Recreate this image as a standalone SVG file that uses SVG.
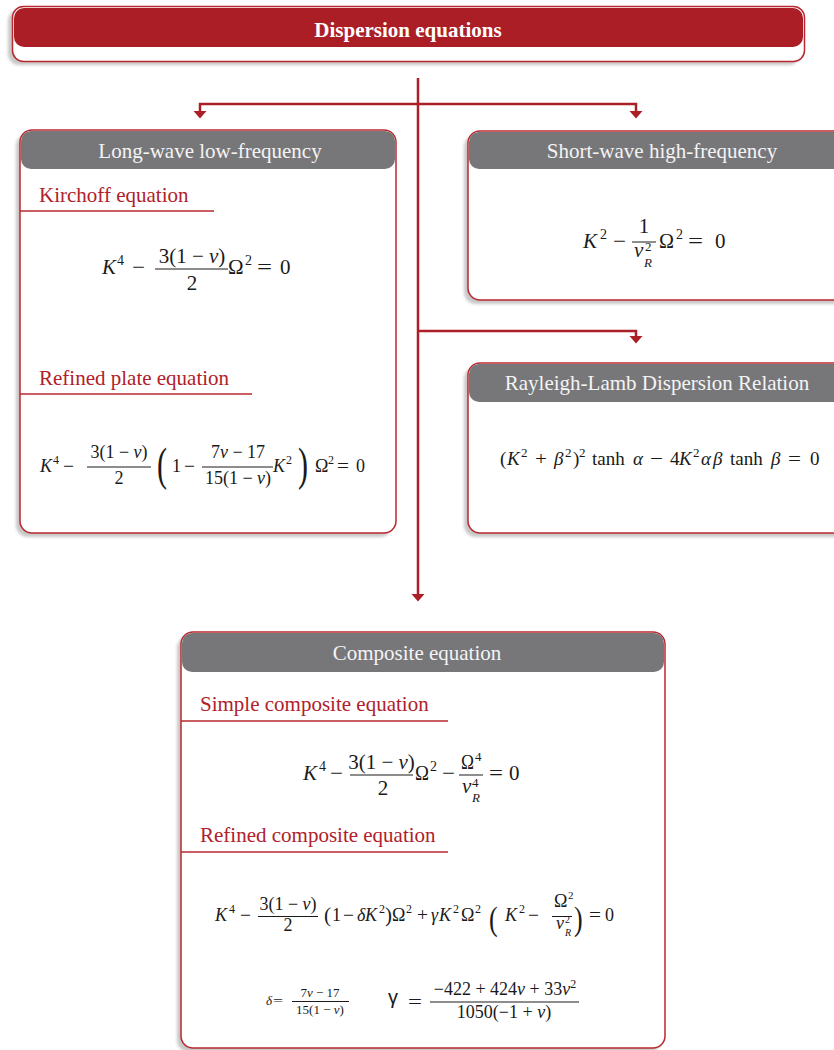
<svg xmlns="http://www.w3.org/2000/svg" width="834" height="1050" viewBox="0 0 834 1050">
<defs>
<filter id="blur" x="-5%" y="-5%" width="110%" height="110%"><feGaussianBlur stdDeviation="1.5"/></filter>
</defs>
<style>
.shadow{fill:#c8c8c8;filter:url(#blur)}
.box{fill:#fff;stroke:#b8282e;stroke-width:1.5}
.hdr{fill:#77777a}
.hd{font-family:"Liberation Serif",serif;font-size:21px;fill:#f4f4f4;text-anchor:middle}
.sub{font-family:"Liberation Serif",serif;font-size:21px;fill:#b0212a}
.ul{stroke:#b8282e;stroke-width:1.5}
.m{font-family:"Liberation Serif",serif;fill:#1a1a1a}
.i{font-style:italic}
.c{text-anchor:middle}
.bar{stroke:#1a1a1a;stroke-width:1}
.conn{stroke:#ad1f27;stroke-width:2.5;fill:none}
.ah{fill:#ad1f27}
</style>
<rect width="834" height="1050" fill="#fff"/>

<g id="title">
<rect class="shadow" x="8" y="10" width="792" height="55" rx="11"/>
<rect class="box" x="12.5" y="6.5" width="792" height="55" rx="11"/>
<rect x="14" y="8" width="789" height="39" rx="10" fill="#ab1e26"/>
<text x="408" y="37" font-family="Liberation Serif, serif" font-size="21" font-weight="bold" fill="#fff" text-anchor="middle">Dispersion equations</text>
</g>

<g id="connectors">
<line class="conn" x1="418" y1="78" x2="418" y2="595"/>
<polyline class="conn" points="200,112 200,104 636,104 636,112"/>
<polyline class="conn" points="418,331 636,331 636,337"/>
<polygon class="ah" points="193.5,111 206.5,111 200,118.5"/>
<polygon class="ah" points="629.5,111 642.5,111 636,118.5"/>
<polygon class="ah" points="629.5,336 642.5,336 636,343.5"/>
<polygon class="ah" points="411.5,594 424.5,594 418,601.5"/>
</g>

<g id="long-wave">
<rect class="shadow" x="16" y="134" width="376" height="403" rx="12"/>
<rect class="box" x="20" y="130" width="376" height="403" rx="12"/>
<rect class="hdr" x="21" y="131" width="374" height="38" rx="10"/>
<text class="hd" x="210" y="158">Long-wave low-frequency</text>
<text class="sub" x="39" y="202">Kirchoff equation</text>
<line class="ul" x1="20" y1="211" x2="214" y2="211"/>
<g class="m" font-size="21">
<text class="i" x="102" y="274">K</text>
<text x="117" y="265" font-size="14">4</text>
<text x="132" y="274" textLength="13" lengthAdjust="spacingAndGlyphs">−</text>
<text class="c" x="192" y="263">3(1 − <tspan class="i">ν</tspan>)</text>
<line class="bar" x1="155" y1="269" x2="228" y2="269"/>
<text class="c" x="192" y="290">2</text>
<text x="228" y="274">Ω</text>
<text x="245" y="265" font-size="14">2</text>
<text x="257" y="274" textLength="15" lengthAdjust="spacingAndGlyphs">=</text>
<text x="280" y="274">0</text>
</g>
<text class="sub" x="39" y="385">Refined plate equation</text>
<line class="ul" x1="20" y1="394" x2="252" y2="394"/>
<g class="m" font-size="18">
<text class="i" x="40" y="472">K</text>
<text x="53" y="464" font-size="12">4</text>
<text x="63" y="472" textLength="11" lengthAdjust="spacingAndGlyphs">−</text>
<text class="c" x="119" y="458">3(1 − <tspan class="i">ν</tspan>)</text>
<line class="bar" x1="87" y1="467" x2="151" y2="467"/>
<text class="c" x="119" y="484">2</text>
<text font-size="30" transform="translate(157,480) scale(1,1.55)">(</text>
<text x="172" y="472">1</text>
<text x="184" y="472" textLength="11" lengthAdjust="spacingAndGlyphs">−</text>
<text class="c" x="238" y="458">7<tspan class="i">ν</tspan> − 17</text>
<line class="bar" x1="202" y1="467" x2="273" y2="467"/>
<text class="c" x="238" y="484">15(1 − <tspan class="i">ν</tspan>)</text>
<text class="i" x="273" y="472">K</text>
<text x="286" y="464" font-size="12">2</text>
<text font-size="30" transform="translate(298,480) scale(1,1.55)">)</text>
<text x="315" y="472">Ω</text>
<text x="328" y="464" font-size="12">2</text>
<text x="337" y="472" textLength="12" lengthAdjust="spacingAndGlyphs">=</text>
<text x="356" y="472">0</text>
</g>
</g>

<g id="short-wave">
<rect class="shadow" x="464" y="135" width="390" height="169" rx="12"/>
<rect class="box" x="468" y="131" width="390" height="169" rx="12"/>
<rect class="hdr" x="469" y="132" width="388" height="37" rx="10"/>
<text class="hd" x="662" y="158">Short-wave high-frequency</text>
<g class="m" font-size="21">
<text class="i" x="583" y="248">K</text>
<text x="600" y="239" font-size="14">2</text>
<text x="613" y="248" textLength="13" lengthAdjust="spacingAndGlyphs">−</text>
<text class="c" x="644" y="233">1</text>
<line class="bar" x1="632" y1="242" x2="656" y2="242"/>
<text class="i" x="634" y="257">v</text>
<text x="645" y="251" font-size="13">2</text>
<text class="i" x="644" y="267" font-size="13">R</text>
<text x="659" y="248" textLength="15" lengthAdjust="spacingAndGlyphs">Ω</text>
<text x="676" y="239" font-size="14">2</text>
<text x="688" y="248" textLength="15" lengthAdjust="spacingAndGlyphs">=</text>
<text x="715" y="248">0</text>
</g>
</g>

<g id="rayleigh-lamb">
<rect class="shadow" x="464" y="367" width="390" height="170" rx="12"/>
<rect class="box" x="468" y="363" width="390" height="170" rx="12"/>
<rect class="hdr" x="469" y="364" width="388" height="38" rx="10"/>
<text class="hd" x="657" y="390">Rayleigh-Lamb Dispersion Relation</text>
<g class="m" font-size="19">
<text x="500" y="465">(</text>
<text class="i" x="507" y="465">K</text>
<text x="521" y="457" font-size="13">2</text>
<text x="535" y="465" textLength="12" lengthAdjust="spacingAndGlyphs">+</text>
<text class="i" x="554" y="465">β</text>
<text x="565" y="457" font-size="13">2</text>
<text x="573" y="465">)</text>
<text x="579" y="457" font-size="13">2</text>
<text x="592" y="465">tanh</text>
<text class="i" x="633" y="465">α</text>
<text x="650" y="465" textLength="13" lengthAdjust="spacingAndGlyphs">−</text>
<text x="670" y="465">4</text>
<text class="i" x="679" y="465">K</text>
<text x="693" y="457" font-size="13">2</text>
<text class="i" x="701" y="465">α</text>
<text class="i" x="713" y="465">β</text>
<text x="730" y="465">tanh</text>
<text class="i" x="771" y="465">β</text>
<text x="788" y="465" textLength="13" lengthAdjust="spacingAndGlyphs">=</text>
<text x="810" y="465">0</text>
</g>
</g>

<g id="composite">
<rect class="shadow" x="177" y="636" width="484" height="416" rx="12"/>
<rect class="box" x="181" y="632" width="484" height="416" rx="12"/>
<rect class="hdr" x="182" y="633" width="482" height="39" rx="10"/>
<text class="hd" x="417" y="660">Composite equation</text>
<text class="sub" x="200" y="711">Simple composite equation</text>
<line class="ul" x1="181" y1="721" x2="448" y2="721"/>
<g class="m" font-size="21">
<text class="i" x="303" y="780">K</text>
<text x="319" y="771" font-size="14">4</text>
<text x="330" y="780" textLength="13" lengthAdjust="spacingAndGlyphs">−</text>
<text class="c" x="381.5" y="769">3(1 − <tspan class="i">ν</tspan>)</text>
<line class="bar" x1="350" y1="775" x2="413" y2="775"/>
<text class="c" x="383" y="795">2</text>
<text x="415" y="780" textLength="14" lengthAdjust="spacingAndGlyphs">Ω</text>
<text x="430" y="771" font-size="14">2</text>
<text x="442" y="780" textLength="13" lengthAdjust="spacingAndGlyphs">−</text>
<text x="461" y="769" textLength="13" lengthAdjust="spacingAndGlyphs">Ω</text>
<text x="475" y="761" font-size="13">4</text>
<line class="bar" x1="459" y1="775" x2="483" y2="775"/>
<text class="i" x="462" y="793">v</text>
<text x="472" y="787" font-size="13">4</text>
<text class="i" x="472" y="802" font-size="13">R</text>
<text x="489" y="780" textLength="14" lengthAdjust="spacingAndGlyphs">=</text>
<text x="509" y="780">0</text>
</g>
<text class="sub" x="200" y="842">Refined composite equation</text>
<line class="ul" x1="181" y1="852" x2="448" y2="852"/>
<g class="m" font-size="18">
<text class="i" x="215" y="921">K</text>
<text x="229" y="913" font-size="12">4</text>
<text x="240" y="921" textLength="11" lengthAdjust="spacingAndGlyphs">−</text>
<text class="c" x="288" y="910">3(1 − <tspan class="i">ν</tspan>)</text>
<line class="bar" x1="258" y1="916.5" x2="318" y2="916.5"/>
<text class="c" x="288" y="931">2</text>
<text x="324" y="922" font-size="21">(</text>
<text x="332" y="921">1</text>
<text x="343" y="921" textLength="11" lengthAdjust="spacingAndGlyphs">−</text>
<text class="i" x="357" y="921">δ</text>
<text class="i" x="365" y="921">K</text>
<text x="379" y="913" font-size="12">2</text>
<text x="385" y="922" font-size="21">)</text>
<text x="392" y="921">Ω</text>
<text x="406" y="913" font-size="12">2</text>
<text x="417" y="921" textLength="11" lengthAdjust="spacingAndGlyphs">+</text>
<text class="i" x="431" y="921">γ</text>
<text class="i" x="439" y="921">K</text>
<text x="453" y="913" font-size="12">2</text>
<text x="461" y="921">Ω</text>
<text x="475" y="913" font-size="12">2</text>
<text font-size="26" transform="translate(489,930) scale(1,1.3)">(</text>
<text class="i" x="505" y="921">K</text>
<text x="519" y="913" font-size="12">2</text>
<text x="528" y="921" textLength="11" lengthAdjust="spacingAndGlyphs">−</text>
<text x="554" y="907">Ω</text>
<text x="568" y="899" font-size="11">2</text>
<line class="bar" x1="552" y1="916.5" x2="572" y2="916.5"/>
<text class="i" x="556" y="929">v</text>
<text x="565" y="923" font-size="10">2</text>
<text class="i" x="565" y="936" font-size="10">R</text>
<text font-size="26" transform="translate(574,930) scale(1,1.3)">)</text>
<text x="589" y="921" textLength="12" lengthAdjust="spacingAndGlyphs">=</text>
<text x="605" y="921">0</text>
</g>
<g class="m" font-size="13">
<text class="i" x="266" y="1005">δ</text>
<text x="273" y="1005" textLength="10" lengthAdjust="spacingAndGlyphs">=</text>
<text class="c" x="320" y="997">7<tspan class="i">ν</tspan> − 17</text>
<line class="bar" x1="292" y1="1001.5" x2="349" y2="1001.5" stroke-width="0.8"/>
<text class="c" x="320" y="1014">15(1 − <tspan class="i">ν</tspan>)</text>
</g>
<text x="388" y="1004" font-family="Liberation Sans, sans-serif" font-size="20" fill="#1a1a1a">γ</text>
<g class="m" font-size="18">
<text x="408" y="1008" textLength="14" lengthAdjust="spacingAndGlyphs">=</text>
<text class="c" x="505" y="995">−422 + 424<tspan class="i">ν</tspan> + 33<tspan class="i">ν</tspan><tspan font-size="12" dy="-7">2</tspan></text>
<line class="bar" x1="430" y1="1002" x2="579" y2="1002"/>
<text class="c" x="504" y="1018">1050(−1 + <tspan class="i">ν</tspan>)</text>
</g>
</g>
</svg>
